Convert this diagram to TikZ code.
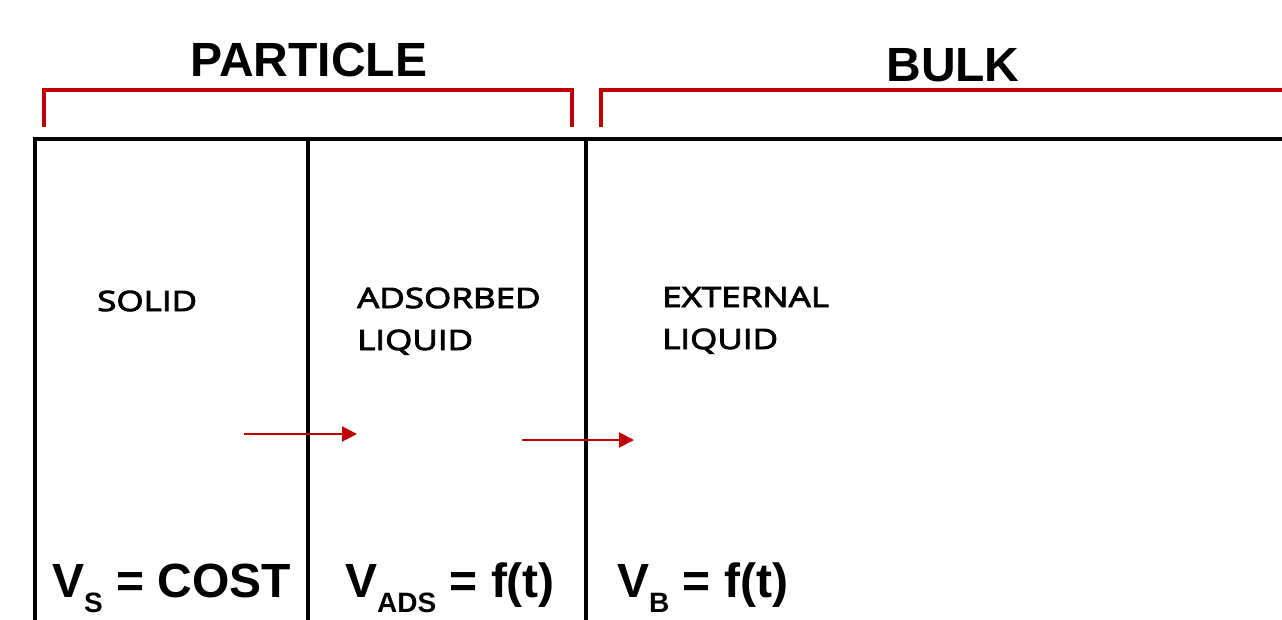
\documentclass[tikz,border=0pt]{standalone}
\usepackage{fontspec}
\setmainfont{Liberation Sans}
\newfontfamily\labfont[FakeStretch=1.25]{Open Sans}
\usetikzlibrary{arrows.meta}
\definecolor{bred}{HTML}{C00000}
\newcommand{\sbs}[1]{\raisebox{-15pt}{\fontsize{28}{28}\selectfont #1}}
\newcommand{\heavytext}[1]{\special{pdf:literal 2 Tr 0.9 w}#1\special{pdf:literal 0 Tr}}
\begin{document}
\begin{tikzpicture}[x=1pt,y=-1pt,
  wall/.style={line width=4pt,black},
  brack/.style={line width=4pt,bred},
  flow/.style={line width=2pt,bred,-{Triangle[length=15pt,width=15pt]}},
  title/.style={font=\fontsize{48}{48}\selectfont\bfseries,inner sep=0pt},
  lab/.style={font=\labfont\fontsize{28}{42}\selectfont,inner sep=0pt,align=left},
  eq/.style={font=\fontsize{48}{48}\selectfont\bfseries,inner sep=0pt,anchor=base west}]
\useasboundingbox (0,0) rectangle (1282,620);
% walls
\coordinate (tl) at (33,139);
\coordinate (tr) at (1282,139);
\coordinate (w1t) at (35,139);
\coordinate (w1b) at (35,622);
\coordinate (w2t) at (308,139);
\coordinate (w2b) at (308,622);
\coordinate (w3t) at (586,139);
\coordinate (w3b) at (586,622);
\draw[wall] (tl) -- (tr);
\draw[wall] (w1t) -- (w1b);
\draw[wall] (w2t) -- (w2b);
\draw[wall] (w3t) -- (w3b);
% brackets
\coordinate (pa) at (44,127);
\coordinate (pb) at (44,90);
\coordinate (pc) at (572,90);
\coordinate (pd) at (572,127);
\draw[brack,line join=miter] (pa) -- (pb) -- (pc) -- (pd);
\coordinate (ba) at (601,127);
\coordinate (bb) at (601,90);
\coordinate (bc) at (1284,90);
\draw[brack,line join=miter] (ba) -- (bb) -- (bc);
% titles
\node[title,anchor=base] (particle) at (309,77) {PARTICLE};
\node[title,anchor=base] (bulk) at (953,82) {BULK};
% labels
\node[lab,anchor=base west] (solid) at (97,311) {\heavytext{SOLID}};
\node[lab,anchor=base west] (ads) at (357,350) {\heavytext{ADSORBED}\\\heavytext{LIQUID}};
\node[lab,anchor=base west] (ext) at (662,349) {\heavytext{EXTERNAL}\\\heavytext{LIQUID}};
% arrows
\coordinate (a1s) at (244,434);
\coordinate (a1e) at (357,434);
\coordinate (a2s) at (522,440);
\coordinate (a2e) at (634,440);
\draw[flow] (a1s) -- (a1e);
\draw[flow] (a2s) -- (a2e);
% equations
\node[eq] (vs) at (52,597) {V\sbs{S} = COST};
\node[eq] (vads) at (345,597) {V\sbs{ADS} = f(t)};
\node[eq] (vb) at (617,597) {V\sbs{B} = f(t)};
\end{tikzpicture}
\end{document}
